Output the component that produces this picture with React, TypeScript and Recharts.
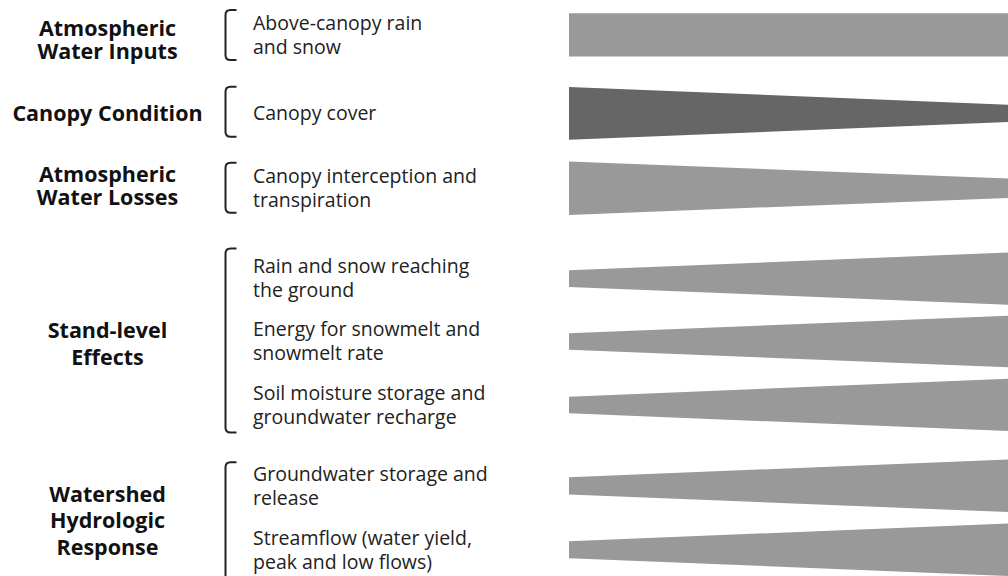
import { ComposedChart, Area, XAxis, YAxis } from "recharts";

// rows (right-hand wedges), read top to bottom
const rowLabels = [
  ["Above-canopy rain", "and snow"],
  ["Canopy cover"],
  ["Canopy interception and", "transpiration"],
  ["Rain and snow reaching", "the ground"],
  ["Energy for snowmelt and", "snowmelt rate"],
  ["Soil moisture storage and", "groundwater recharge"],
  ["Groundwater storage and", "release"],
  ["Streamflow (water yield,", "peak and low flows)"],
];
const rowCenters = [35, 113.5, 188.5, 279, 342, 405.5, 486.5, 550.5];
const startHalf = [21.7, 26.5, 26.7, 8.3, 8.3, 8.3, 8.7, 8.5];
const endHalf = [21.7, 8.7, 9.7, 26.2, 25.8, 26.2, 26.3, 26.3];
const rowGroup = [0, 1, 2, 3, 3, 3, 4, 4];

// groups on the left
const groupLabels = [
  ["Atmospheric", "Water Inputs"],
  ["Canopy Condition"],
  ["Atmospheric", "Water Losses"],
  ["Stand-level", "Effects"],
  ["Watershed", "Hydrologic", "Response"],
];
const groupCenters = [40, 113.5, 186.5, 344, 521];
const groupLineGap = [23, 23, 23, 27, 26.5];
const bracketTops = [10, 87, 163, 249, 463];
const bracketBottoms = [60, 137, 213, 433, 600];

const W = 1008;
const H = 576;
const Y_MIN = 0;
const Y_MAX = 576;
const UNIT = H / (Y_MAX - Y_MIN);
const GROUP_X = 107.5;
const BRACKET_X = 225.5;
const ITEM_X = 253;
const FONT = "'Open Sans', sans-serif";
const LIGHT = "#999999";
const DARK = "#666666";

const chartData = [0, 1].map((x) => {
  const point: Record<string, number | number[]> = { x };
  rowCenters.forEach((c, i) => {
    const h = x === 0 ? startHalf[i] : endHalf[i];
    point[`r${i}`] = [c - h, c + h];
  });
  return point;
});

// group label + bracket, drawn relative to the first row of the group
function Group({ g, rowY, rowValue }: { g: number; rowY: number; rowValue: number }) {
  const y = rowY + (groupCenters[g] - rowValue) * UNIT;
  const lines = groupLabels[g];
  const n = lines.length;
  const gap = groupLineGap[g];
  const top = rowY + (bracketTops[g] - rowValue) * UNIT;
  const bottom = rowY + (bracketBottoms[g] - rowValue) * UNIT;
  const bx = BRACKET_X;
  const path = `M ${bx + 11} ${top} L ${bx + 5} ${top} Q ${bx} ${top} ${bx} ${top + 5} L ${bx} ${bottom - 5} Q ${bx} ${bottom} ${bx + 5} ${bottom} L ${bx + 11} ${bottom}`;
  return (
    <g>
      {lines.map((t, i) => (
        <text
          key={i}
          x={GROUP_X}
          y={y + (i - (n - 1) / 2) * gap + 7.7}
          textAnchor="middle"
          fontFamily={FONT}
          fontWeight={700}
          fontSize={21.5}
          fill="#111"
        >
          {t}
        </text>
      ))}
      <path d={path} stroke="#222" strokeWidth={2} fill="none" />
    </g>
  );
}

function RowTick(props: any) {
  const { y, payload } = props;
  const idx = rowCenters.indexOf(payload?.value);
  if (idx < 0) return <g />;
  const lines = rowLabels[idx];
  const n = lines.length;
  const g = rowGroup[idx];
  const firstInGroup = rowGroup.indexOf(g) === idx;
  return (
    <g>
      {firstInGroup && <Group g={g} rowY={y} rowValue={rowCenters[idx]} />}
      {lines.map((t, i) => (
        <text
          key={i}
          x={ITEM_X}
          y={y + (i - (n - 1) / 2) * 24 + 6.8}
          fontFamily={FONT}
          fontSize={19.5}
          fill="#222"
        >
          {t}
        </text>
      ))}
    </g>
  );
}

export default function App() {
  return (
    <div style={{ position: "absolute", left: 0, top: 0, width: W, height: H, background: "#fff" }}>
      <ComposedChart width={W} height={H} data={chartData} margin={{ top: 0, right: 0, bottom: 0, left: 568 }}>
        <XAxis type="number" dataKey="x" domain={[0, 1]} hide />
        <YAxis
          yAxisId="rows"
          type="number"
          domain={[Y_MIN, Y_MAX]}
          reversed
          width={1}
          axisLine={false}
          tickLine={false}
          ticks={rowCenters}
          interval={0}
          tick={(p: any) => <RowTick {...p} />}
        />
        {rowCenters.map((_, i) => (
          <Area
            key={i}
            yAxisId="rows"
            dataKey={`r${i}`}
            type="linear"
            stroke="none"
            fill={i === 1 ? DARK : LIGHT}
            fillOpacity={1}
            dot={false}
            activeDot={false}
            isAnimationActive={false}
          />
        ))}
      </ComposedChart>
    </div>
  );
}
